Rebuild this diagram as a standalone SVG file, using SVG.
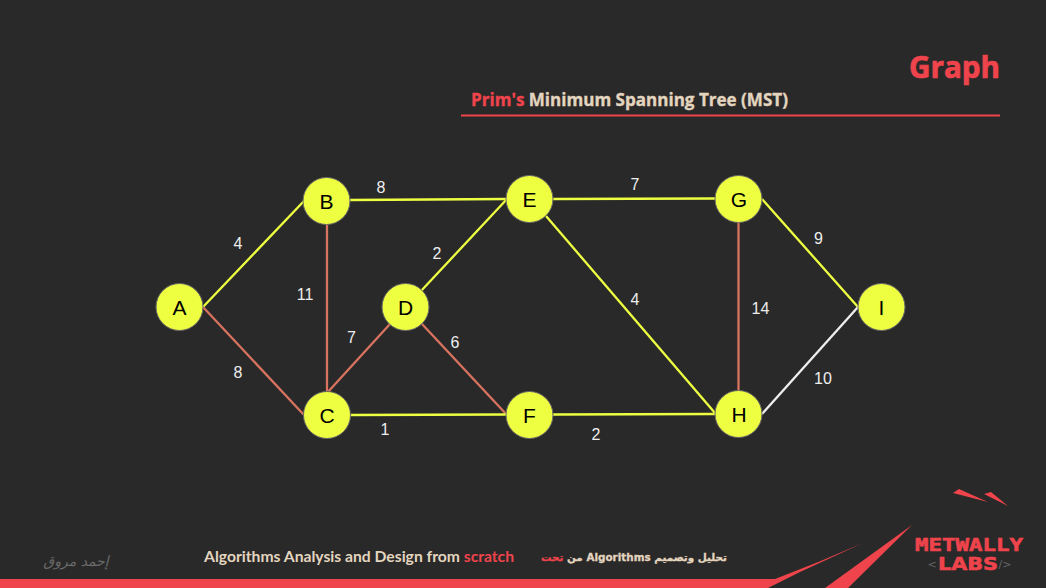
<svg xmlns="http://www.w3.org/2000/svg" width="1046" height="588" viewBox="0 0 1046 588">
<style>
.e{fill:none;stroke-width:2.3}
.y{stroke:#eeff41}
.r{stroke:#d8735f}
.w{stroke:#eeeeee}
.n circle{fill:#eeff41;stroke:#666;stroke-width:1}
.n text{font:21px "Liberation Sans",Arial,sans-serif;fill:#000;text-anchor:middle}
.l{font:16px "Liberation Sans",Arial,sans-serif;fill:#eee;text-anchor:middle}
.red{fill:#ef444c}
.cream{fill:#e3d5bf}
.h{font-family:"Open Sans","Noto Sans",sans-serif;font-weight:700}
.f{font-family:"Lato","Noto Sans",sans-serif;font-weight:700;font-size:15px}
.ar{font-family:"DejaVu Sans",sans-serif;font-weight:700;font-size:10.4px}
.gr{fill:#6a6a6a}
</style>
<rect width="1046" height="588" fill="#292929"/>
<text class="h red" x="1000" y="78" text-anchor="end" font-size="29.5" textLength="91" lengthAdjust="spacingAndGlyphs" stroke="#ef444c" stroke-width=".7">Graph</text>
<text class="h" x="471" y="106" font-size="17" textLength="317" lengthAdjust="spacingAndGlyphs" stroke-width=".35"><tspan class="red" stroke="#ef444c">Prim's</tspan><tspan class="cream" stroke="#e3d5bf"> Minimum Spanning Tree (MST)</tspan></text>
<rect x="461" y="114.500" width="539" height="2" class="red"/>
<g id="connectors">
<line class="e y" x1="203" y1="307" x2="304" y2="201"/>
<line class="e r" x1="203" y1="307" x2="304" y2="415"/>
<line class="e r" x1="327" y1="224" x2="327" y2="392"/>
<line class="e y" x1="350" y1="200" x2="507" y2="199"/>
<line class="e r" x1="327" y1="393" x2="390" y2="324"/>
<line class="e y" x1="421" y1="291" x2="507" y2="199"/>
<line class="e r" x1="422" y1="324" x2="507" y2="415"/>
<line class="e y" x1="350" y1="415" x2="507" y2="414.500"/>
<line class="e y" x1="553" y1="199" x2="715" y2="198.500"/>
<line class="e y" x1="546" y1="216" x2="715" y2="413"/>
<line class="e y" x1="553" y1="414.500" x2="715" y2="414"/>
<line class="e r" x1="738.500" y1="222" x2="738.500" y2="391"/>
<line class="e y" x1="762" y1="199" x2="858" y2="307"/>
<line class="e w" x1="762" y1="414" x2="858" y2="307"/>
</g>
<g id="node-A" class="n"><circle cx="179.500" cy="307" r="23.500"/><text x="179.500" y="314.500">A</text></g>
<g id="node-B" class="n"><circle cx="326.500" cy="201" r="23.500"/><text x="326.500" y="208.500">B</text></g>
<g id="node-C" class="n"><circle cx="327" cy="415" r="23.500"/><text x="327" y="422.500">C</text></g>
<g id="node-D" class="n"><circle cx="405.500" cy="307" r="23.500"/><text x="405.500" y="314.500">D</text></g>
<g id="node-E" class="n"><circle cx="529.500" cy="199" r="23.500"/><text x="529.500" y="206.500">E</text></g>
<g id="node-F" class="n"><circle cx="529.500" cy="415" r="23.500"/><text x="529.500" y="422.500">F</text></g>
<g id="node-G" class="n"><circle cx="738.500" cy="199" r="23.500"/><text x="739" y="206.500">G</text></g>
<g id="node-H" class="n"><circle cx="738.500" cy="414" r="23.500"/><text x="739" y="421.500">H</text></g>
<g id="node-I" class="n"><circle cx="881.500" cy="307" r="23.500"/><text x="881.500" y="314.500">I</text></g>
<g id="labels">
<text class="l" x="238" y="248.500">4</text>
<text class="l" x="238" y="377.500">8</text>
<text class="l" x="305" y="299.500">11</text>
<text class="l" x="381" y="192.500">8</text>
<text class="l" x="437" y="258.500">2</text>
<text class="l" x="351.500" y="342.500">7</text>
<text class="l" x="455" y="347.500">6</text>
<text class="l" x="385" y="434.500">1</text>
<text class="l" x="635" y="189.500">7</text>
<text class="l" x="635" y="304.500">4</text>
<text class="l" x="596" y="439.500">2</text>
<text class="l" x="760.500" y="313.500">14</text>
<text class="l" x="818.500" y="243.500">9</text>
<text class="l" x="823" y="383.500">10</text>
</g>
<path class="red" d="M0 579H775Q820 562 863 543L800 572Q782 581 768 588H0Z"/>
<path class="red" d="M825 588L912 525L848 588Z"/>
<path class="red" d="M953 493L959 489L988 502Z"/>
<path class="red" d="M984 494L991 492L1008 506Z"/>
<text x="969" y="551" text-anchor="middle" font-family="DejaVu Sans Mono,monospace" font-weight="700" font-size="17" textLength="108" lengthAdjust="spacingAndGlyphs" class="red" stroke="#ef444c" stroke-width=".6">METWALLY</text>
<text x="968" y="570" text-anchor="middle" font-family="DejaVu Sans,sans-serif" font-weight="700" font-size="18" textLength="60" lengthAdjust="spacingAndGlyphs" class="red" stroke="#ef444c" stroke-width=".6">LABS</text>
<text x="932" y="568" text-anchor="middle" font-family="DejaVu Sans,sans-serif" font-size="11" fill="#666">&lt;</text>
<text x="1005" y="568" text-anchor="middle" font-family="DejaVu Sans,sans-serif" font-size="11" fill="#666">/&gt;</text>
<text class="f" x="204" y="562" textLength="310" lengthAdjust="spacingAndGlyphs"><tspan class="cream">Algorithms Analysis and Design from </tspan><tspan class="red">scratch</tspan></text>
<text class="ar" x="727" y="561" direction="rtl" unicode-bidi="embed" stroke-width=".3"><tspan class="cream" stroke="#e3d5bf">تحليل وتصميم Algorithms من </tspan><tspan class="red" stroke="#ef444c">تحت</tspan></text>
<text class="gr" x="76" y="566" text-anchor="middle" direction="rtl" font-family="DejaVu Sans,sans-serif" font-size="14" font-style="italic">إحمد مروق</text>
</svg>
